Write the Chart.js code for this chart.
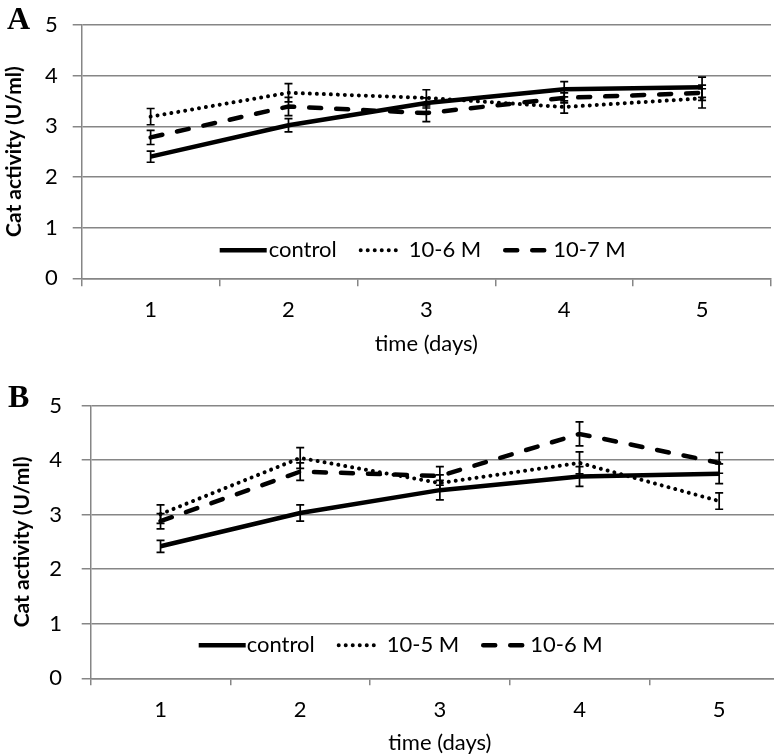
<!DOCTYPE html>
<html>
<head>
<meta charset="utf-8">
<script src="https://cdn.jsdelivr.net/npm/chart.js@4.4.1/dist/chart.umd.min.js"></script>
<style>
  html, body { margin: 0; padding: 0; background: #fff; overflow: hidden; }
  body { width: 774px; height: 756px; position: relative; }
  .panel { position: absolute; left: 0; }
  .letter { position: absolute; font-family: 'Liberation Serif', 'Times New Roman', serif; font-weight: bold; font-size: 32px; line-height: 32px; color: #000; }
</style>
</head>
<body>
<div class="panel" style="top:0;width:774px;height:370px"><canvas id="chartA"></canvas></div>
<div class="panel" style="top:376px;width:792px;height:380px"><canvas id="chartB"></canvas></div>
<div class="letter" style="left:7px;top:2px">A</div>
<div class="letter" style="left:8px;top:380px">B</div>
<script>
const days = ['1', '2', '3', '4', '5']

// panel A
const labelsA = ['control', '10-6 M', '10-7 M']
const controlA = [2.40, 3.02, 3.46, 3.73, 3.77]
const controlErrA = [0.11, 0.13, 0.10, 0.15, 0.20]
const conc6A = [3.19, 3.66, 3.56, 3.38, 3.55]
const conc6ErrA = [0.16, 0.18, 0.16, 0.12, 0.19]
const conc7A = [2.78, 3.39, 3.26, 3.56, 3.66]
const conc7ErrA = [0.14, 0.18, 0.17, 0.10, 0.15]

// panel B
const labelsB = ['control', '10-5 M', '10-6 M']
const controlB = [2.42, 3.03, 3.45, 3.70, 3.75]
const controlErrB = [0.11, 0.15, 0.18, 0.18, 0.18]
const conc5B = [3.01, 4.04, 3.58, 3.95, 3.25]
const conc5ErrB = [0.17, 0.19, 0.15, 0.20, 0.15]
const conc6B = [2.88, 3.79, 3.71, 4.48, 3.95]
const conc6ErrB = [0.14, 0.16, 0.17, 0.22, 0.19]

const yTicks = [0, 1, 2, 3, 4, 5]

const FONT = 'Lato, "Liberation Sans", Arial, sans-serif'
const GRID = '#868686'

// solid, dotted, dashed
const lineStyles = [
  { borderWidth: 4.5, borderDash: [], borderCapStyle: 'butt' },
  { borderWidth: 4, borderDash: [0.01, 7], borderCapStyle: 'round' },
  { borderWidth: 4.5, borderDash: [12, 15], borderCapStyle: 'round' }
]

const errorBars = {
  id: 'errorBars',
  afterDatasetsDraw(chart, args, opts) {
    const { ctx } = chart
    const x = chart.scales.x
    const y = chart.scales.y
    ctx.save()
    ctx.strokeStyle = '#000'
    ctx.lineWidth = 1.7
    ctx.setLineDash([])
    chart.data.datasets.forEach((ds, d) => {
      const errs = opts.errors[d]
      ds.data.forEach((v, i) => {
        const px = x.getPixelForValue(i)
        const top = y.getPixelForValue(v + errs[i])
        const bottom = y.getPixelForValue(v - errs[i])
        ctx.beginPath()
        ctx.moveTo(px, top); ctx.lineTo(px, bottom)
        ctx.moveTo(px - 4, top); ctx.lineTo(px + 4, top)
        ctx.moveTo(px - 4, bottom); ctx.lineTo(px + 4, bottom)
        ctx.stroke()
      })
    })
    ctx.restore()
  }
}

const lineLegend = {
  id: 'lineLegend',
  afterDraw(chart, args, opts) {
    const { ctx, chartArea } = chart
    const y = chartArea.bottom - opts.offsetY
    let x = chartArea.left + opts.offsetX
    ctx.save()
    ctx.font = '22px ' + FONT
    ctx.textBaseline = 'middle'
    ctx.fillStyle = '#000'
    ctx.strokeStyle = '#000'
    chart.data.datasets.forEach((ds, i) => {
      ctx.beginPath()
      ctx.lineWidth = ds.borderWidth
      ctx.lineCap = ds.borderCapStyle
      ctx.setLineDash(ds.borderDash)
      ctx.moveTo(x, y)
      ctx.lineTo(x + opts.sampleWidths[i], y)
      ctx.stroke()
      ctx.setLineDash([])
      x += opts.sampleWidths[i] + opts.textGaps[i]
      ctx.fillText(ds.label, x, y)
      x += ctx.measureText(ds.label).width + opts.itemGap
    })
    ctx.restore()
  }
}

function makeChart(id, labels, series, errors, cfg) {
  const datasets = series.map((data, i) => ({
    label: labels[i],
    data,
    borderColor: '#000',
    backgroundColor: '#000',
    pointRadius: 0,
    tension: 0,
    ...lineStyles[i]
  }))

  return new Chart(document.getElementById(id), {
    type: 'line',
    data: { labels: days, datasets },
    plugins: [errorBars, lineLegend],
    options: {
      animation: false,
      responsive: true,
      maintainAspectRatio: false,
      layout: { padding: { top: cfg.padTop, right: cfg.padRight, bottom: 0, left: 0 } },
      plugins: {
        legend: { display: false },
        tooltip: { enabled: false },
        errorBars: { errors },
        lineLegend: cfg.legend
      },
      scales: {
        x: {
          offset: true,
          grid: { offset: true, drawOnChartArea: false, tickLength: cfg.xTick, color: GRID, lineWidth: 1.5 },
          border: { color: GRID, width: 1.5 },
          ticks: { color: '#000', padding: cfg.xPad, font: { family: FONT, size: 22, lineHeight: 1.2 } },
          title: { display: true, text: 'time (days)', color: '#000', padding: { top: 0, bottom: cfg.xTitlePad }, font: { family: FONT, size: 22, lineHeight: 1.2 } },
          afterFit: (scale) => { scale.height = cfg.xHeight }
        },
        y: {
          min: 0,
          max: 5,
          afterBuildTicks: (scale) => { scale.ticks = yTicks.map(v => ({ value: v })) },
          grid: { color: GRID, lineWidth: 1.5, tickLength: 9 },
          border: { color: GRID, width: 1.5 },
          ticks: { color: '#000', padding: cfg.yPad, font: { family: FONT, size: 22, lineHeight: 0.9 } },
          title: { display: true, text: 'Cat activity (U/ml)', color: '#000', padding: { top: cfg.yTitlePad, bottom: 0 }, font: { family: FONT, size: 21, weight: 'bold', lineHeight: 1.2 } },
          afterFit: (scale) => { scale.width = cfg.yWidth }
        }
      }
    }
  })
}

makeChart('chartA', labelsA, [controlA, conc6A, conc7A], [controlErrA, conc6ErrA, conc7ErrA], {
  padTop: 10, padRight: 3,
  yWidth: 81.7, yPad: 15, yTitlePad: 1.4,
  xHeight: 91.7, xTick: 8, xPad: 10.5, xTitlePad: 12.8,
  legend: { offsetX: 138, offsetY: 28, sampleWidths: [47, 40, 41], textGaps: [2, 8, 7], itemGap: 24 }
})

makeChart('chartB', labelsB, [controlB, conc5B, conc6B], [controlErrB, conc5ErrB, conc6ErrB], {
  padTop: 15.7, padRight: 3,
  yWidth: 90.7, yPad: 19.7, yTitlePad: 10,
  xHeight: 77.7, xTick: 7, xPad: 11, xTitlePad: 0,
  legend: { offsetX: 108, offsetY: 33, sampleWidths: [47, 38, 40], textGaps: [1, 10, 7], itemGap: 24 }
})
</script>
</body>
</html>
